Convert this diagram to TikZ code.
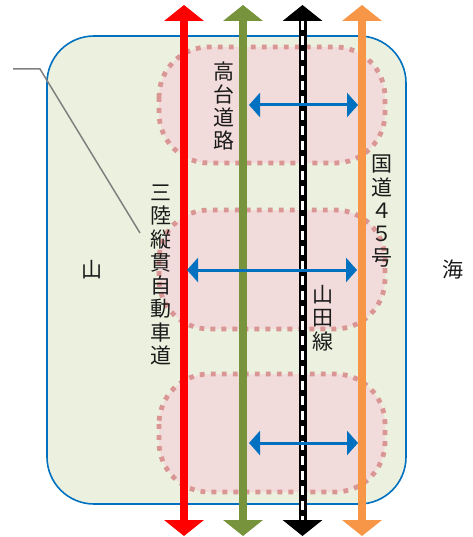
\documentclass[tikz,border=0pt]{standalone}
\usepackage{fontspec}
\newfontfamily\cjk{Noto Sans CJK JP}
\usetikzlibrary{arrows.meta}
\definecolor{landfill}{HTML}{EBF1DE}
\definecolor{landborder}{HTML}{0070C0}
\definecolor{zonefill}{HTML}{F2DCDB}
\definecolor{zonedot}{HTML}{D99694}
\definecolor{roadred}{HTML}{FF0000}
\definecolor{roadgreen}{HTML}{77933C}
\definecolor{roadorange}{HTML}{F79646}
\definecolor{linkblue}{HTML}{0070C0}
\definecolor{callgray}{HTML}{808080}
\definecolor{txt}{HTML}{1A1A1A}
\tikzset{
  land/.style={fill=landfill, draw=landborder, line width=1.6pt, rounded corners=47pt},
  zone/.style={fill=zonefill, draw=zonedot, line width=4.8pt, dash pattern=on 4.8pt off 6.2pt, rounded corners=50pt},
  roaddraw/.style={line width=8pt, draw=#1, {Triangle[width=39pt,length=16pt]}-{Triangle[width=39pt,length=16pt]}},
  raildash/.style={line width=2.6pt, draw=white, dash pattern=on 9pt off 6pt},
  link/.style={line width=3pt, draw=linkblue, {Triangle[width=24pt,length=11pt]}-{Triangle[width=24pt,length=11pt]}},
  callout/.style={line width=1.5pt, draw=callgray},
  vtext/.style={font=\cjk\fontsize{21}{23.3}\selectfont, align=center, inner sep=0pt, text=txt},
  label/.style={font=\cjk\fontsize{21}{23.3}\selectfont, inner sep=0pt, text=txt}
}
\begin{document}
\begin{tikzpicture}[x=1pt,y=-1pt]
\useasboundingbox (0,0) rectangle (472,537);
% land
\path[land] (47,36) rectangle (406,504);
% zones
\path[zone] (159,47) rectangle (385,163);
\path[zone] (159,210) rectangle (385,329);
\path[zone] (159,374) rectangle (385,492);
% road end coordinates
\coordinate (rt) at (184,5);   \coordinate (rb) at (184,536);
\coordinate (gt) at (243,5);   \coordinate (gb) at (243,536);
\coordinate (kt) at (302.5,5); \coordinate (kb) at (302.5,536);
\coordinate (ot) at (362,5);   \coordinate (ob) at (362,536);
\coordinate (kdt) at (302.5,21); \coordinate (kdb) at (302.5,520);
\draw[roaddraw=roadred] (rt) -- (rb);
\draw[roaddraw=roadgreen] (gt) -- (gb);
\draw[roaddraw=black] (kt) -- (kb);
\draw[raildash] (kdt) -- (kdb);
\draw[roaddraw=roadorange] (ot) -- (ob);
% links
\coordinate (l1a) at (249,105); \coordinate (l1b) at (358,105);
\coordinate (l2a) at (187,270); \coordinate (l2b) at (357,270);
\coordinate (l3a) at (249,443); \coordinate (l3b) at (358,443);
\draw[link] (l1a) -- (l1b);
\draw[link] (l2a) -- (l2b);
\draw[link] (l3a) -- (l3b);
% texts
\node[vtext] (kodai) at (224,106) {高\\台\\道\\路};
\node[vtext] (sanriku) at (161,275) {三\\陸\\縦\\貫\\自\\動\\車\\道};
\node[vtext] (kokudo) at (382,211) {国\\道\\４\\５\\号};
\node[vtext] (yamada) at (323,318) {山\\田\\線};
\node[label] (yama) at (92,270) {山};
\node[label] (umi) at (453,270) {海};
% callout
\coordinate (c0) at (13,69);
\coordinate (c1) at (40,69);
\coordinate (c2) at (140,233);
\draw[callout] (c0) -- (c1) -- (c2);
\end{tikzpicture}
\end{document}
